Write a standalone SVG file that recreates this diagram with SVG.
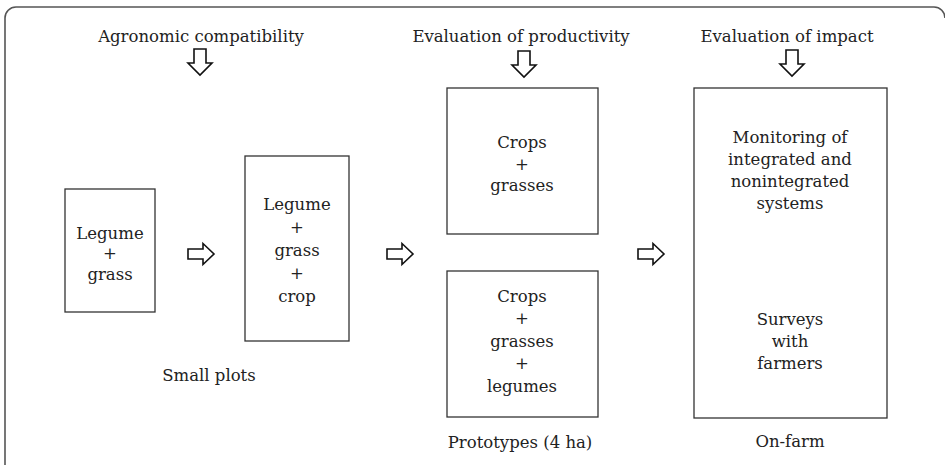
<svg xmlns="http://www.w3.org/2000/svg" width="945" height="465" viewBox="0 0 945 465">
<defs>
<style>
.t{font-family:"DejaVu Serif","Liberation Serif",serif;font-size:16.5px;fill:#222;text-anchor:middle}
.b{fill:#fff;stroke:#333;stroke-width:1.3}
.a{fill:#fff;stroke:#111;stroke-width:1.6;stroke-linejoin:miter}
.f{fill:none;stroke:#555;stroke-width:1.6}
</style>
<path id="dn" class="a" d="M-6,0 H6 V14 H12 L0,26 L-12,14 H-6 Z"/>
<path id="rt" class="a" d="M0,-5 H15 V-10.5 L26,0 L15,10.5 V5 H0 Z"/>
</defs>
<rect width="945" height="465" fill="#fff"/>
<path class="f" d="M5,466 V18 A11,11 0 0 1 16,7 H934 A11,11 0 0 1 945,18"/>

<g id="headers">
<text class="t" x="201" y="42">Agronomic compatibility</text>
<text class="t" x="521" y="42">Evaluation of productivity</text>
<text class="t" x="787" y="42">Evaluation of impact</text>
</g>

<g id="connectors">
<use href="#dn" x="200" y="49"/>
<use href="#dn" x="524" y="51"/>
<use href="#dn" x="792" y="50"/>
<use href="#rt" x="188" y="254"/>
<use href="#rt" x="387" y="254"/>
<use href="#rt" x="638" y="254"/>
</g>

<g id="n1">
<rect class="b" x="65" y="189" width="90" height="123"/>
<text class="t" x="110" y="239">Legume</text>
<text class="t" x="110" y="259">+</text>
<text class="t" x="110" y="280">grass</text>
</g>

<g id="n2">
<rect class="b" x="245" y="156" width="104" height="185"/>
<text class="t" x="297" y="210">Legume</text>
<text class="t" x="297" y="233">+</text>
<text class="t" x="297" y="256">grass</text>
<text class="t" x="297" y="279">+</text>
<text class="t" x="297" y="302">crop</text>
</g>
<text class="t" x="209" y="381">Small plots</text>

<g id="n3">
<rect class="b" x="447" y="88" width="151" height="146"/>
<text class="t" x="522" y="148">Crops</text>
<text class="t" x="522" y="170">+</text>
<text class="t" x="522" y="191">grasses</text>
</g>

<g id="n4">
<rect class="b" x="447" y="271" width="151" height="146"/>
<text class="t" x="522" y="302">Crops</text>
<text class="t" x="522" y="324">+</text>
<text class="t" x="522" y="347">grasses</text>
<text class="t" x="522" y="369">+</text>
<text class="t" x="522" y="392">legumes</text>
</g>
<text class="t" x="520" y="448">Prototypes (4 ha)</text>

<g id="n5">
<rect class="b" x="694" y="88" width="193" height="330"/>
<text class="t" x="790" y="143">Monitoring of</text>
<text class="t" x="790" y="165">integrated and</text>
<text class="t" x="790" y="187">nonintegrated</text>
<text class="t" x="790" y="209">systems</text>
<text class="t" x="790" y="325">Surveys</text>
<text class="t" x="790" y="347">with</text>
<text class="t" x="790" y="369">farmers</text>
</g>
<text class="t" x="790" y="447">On-farm</text>
</svg>
